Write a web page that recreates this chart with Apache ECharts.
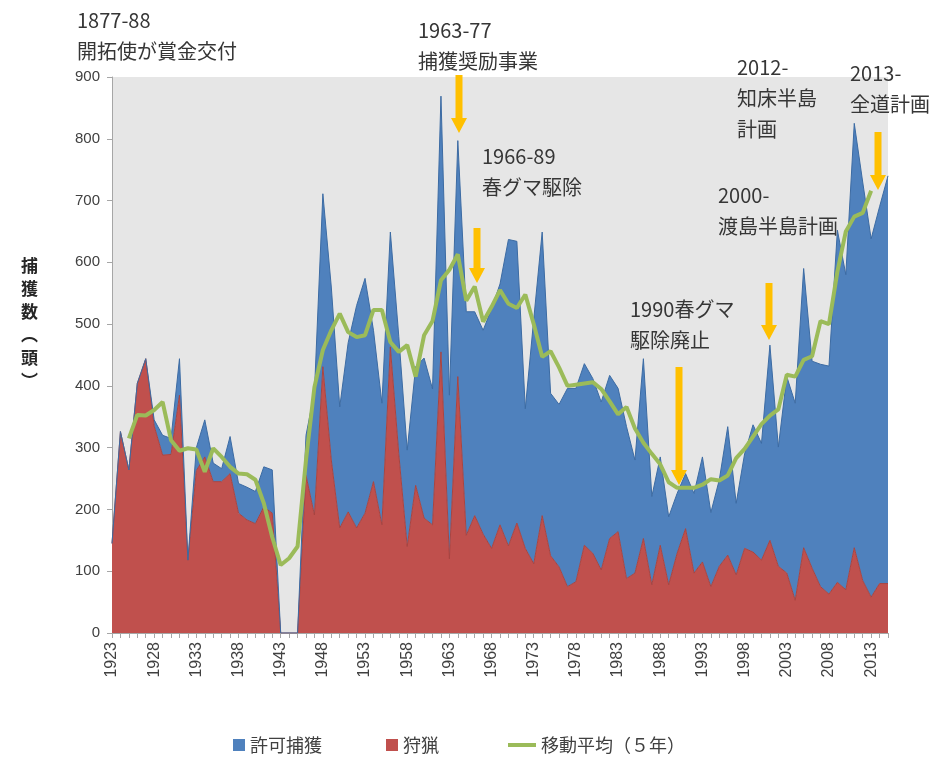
<!DOCTYPE html>
<html>
<head>
<meta charset="utf-8">
<script src="https://cdn.jsdelivr.net/npm/echarts@6/dist/echarts.min.js"></script>
<style>
html, body { margin: 0; padding: 0; background: #fff; }
#chart { width: 938px; height: 757px; }
</style>
</head>
<body>
<div id="chart"></div>
<script>
const years = [
  '1923', '1924', '1925', '1926', '1927', '1928', '1929', '1930', '1931', '1932',
  '1933', '1934', '1935', '1936', '1937', '1938', '1939', '1940', '1941', '1942',
  '1943', '1944', '1945', '1946', '1947', '1948', '1949', '1950', '1951', '1952',
  '1953', '1954', '1955', '1956', '1957', '1958', '1959', '1960', '1961', '1962',
  '1963', '1964', '1965', '1966', '1967', '1968', '1969', '1970', '1971', '1972',
  '1973', '1974', '1975', '1976', '1977', '1978', '1979', '1980', '1981', '1982',
  '1983', '1984', '1985', '1986', '1987', '1988', '1989', '1990', '1991', '1992',
  '1993', '1994', '1995', '1996', '1997', '1998', '1999', '2000', '2001', '2002',
  '2003', '2004', '2005', '2006', '2007', '2008', '2009', '2010', '2011', '2012',
  '2013', '2014', '2015'
];

// 狩猟
const hunting = [
  145, 326, 264, 404, 444, 335, 288, 289, 385, 118,
  263, 285, 245, 245, 258, 194, 183, 177, 204, 194,
  0, 0, 0, 255, 191, 431, 280, 170, 196, 170,
  194, 245, 175, 463, 290, 140, 239, 186, 175, 455,
  120, 415, 158, 190, 160, 137, 175, 141, 178, 137,
  112, 190, 125, 107, 75, 83, 142, 129, 102, 153,
  164, 88, 97, 153, 78, 142, 78, 129, 169, 97,
  115, 75, 108, 126, 94, 137, 131, 118, 150, 108,
  97, 53, 138, 105, 75, 63, 82, 70, 138, 85,
  58, 80, 80
];

// 許可捕獲
const permit = [
  0, 0, 0, 0, 0, 10, 32, 26, 59, 0,
  37, 60, 30, 21, 60, 48, 53, 52, 65, 70,
  0, 0, 0, 65, 199, 280, 280, 196, 274, 360,
  380, 245, 197, 186, 190, 156, 192, 259, 220, 414,
  265, 382, 362, 330, 330, 388, 390, 496, 456, 226,
  396, 459, 263, 263, 321, 313, 294, 283, 272, 264,
  232, 246, 183, 291, 143, 143, 110, 97, 89, 129,
  170, 120, 140, 208, 116, 153, 206, 189, 316, 193,
  318, 319, 452, 335, 360, 369, 570, 510, 687, 645,
  580, 610, 660
];

// 移動平均（５年）
const movingAvg = [
  null, null, 315, 353, 352, 361, 374, 312, 295, 299,
  297, 261, 299, 285, 269, 258, 257, 248, 210, 155,
  110, 121, 140, 280, 398, 458, 490, 517, 487, 479,
  482, 523, 523, 471, 455, 466, 415, 482, 505, 571,
  588, 613, 538, 561, 504, 528, 555, 533, 526, 548,
  500, 447, 456, 430, 400, 402, 404, 406, 395, 375,
  354, 366, 331, 308, 290, 273, 244, 235, 235, 235,
  240, 249, 247, 255, 283, 298, 318, 338, 352, 362,
  418, 415, 442, 448, 505, 500, 585, 650, 674, 680,
  716, null, null
];

const FONT = '"Liberation Sans", "Noto Sans CJK JP", sans-serif';
const NOTE_COLOR = '#363636';

function note(x, y, lines) {
  return lines.map((t, i) => ({
    type: 'text',
    x: x,
    y: y + i * 31,
    style: { text: t, font: '20px "Noto Sans CJK JP", sans-serif', fill: NOTE_COLOR, verticalAlign: 'top' },
    z: 100
  }));
}

function arrow(x, top, tip) {
  const head = tip - 15;
  return {
    type: 'polygon',
    shape: {
      points: [[x - 3.5, top], [x + 3.5, top], [x + 3.5, head], [x + 8, head],
        [x, tip], [x - 8, head], [x - 3.5, head]]
    },
    style: { fill: '#ffc000' },
    z: 100
  };
}

const chart = echarts.init(document.getElementById('chart'));

chart.setOption({
  animation: false,
  textStyle: { fontFamily: FONT },
  grid: {
    left: 112, right: 50, top: 77, bottom: 124,
    show: true, backgroundColor: '#e6e6e6', borderWidth: 0
  },
  legend: [
    {
      left: 228, top: 731,
      itemWidth: 12, itemHeight: 12, itemGap: 64,
      icon: 'rect',
      textStyle: { fontSize: 18, color: '#404040', fontFamily: '"Noto Sans CJK JP", sans-serif' },
      data: ['許可捕獲', '狩猟']
    },
    {
      left: 503, top: 731,
      itemWidth: 28, itemHeight: 4,
      icon: 'rect',
      textStyle: { fontSize: 18, color: '#404040', fontFamily: '"Noto Sans CJK JP", sans-serif' },
      data: ['移動平均（５年）']
    }
  ],
  xAxis: {
    type: 'category',
    data: years,
    boundaryGap: false,
    axisLine: { lineStyle: { color: '#a6a6a6' } },
    axisTick: { show: true, interval: 0, length: 5, lineStyle: { color: '#a6a6a6' } },
    axisLabel: { interval: 4, rotate: 90, fontSize: 16, color: '#404040', margin: 9 },
    splitLine: { show: false }
  },
  yAxis: {
    type: 'value',
    min: 0, max: 900, interval: 100,
    axisLine: { show: true, lineStyle: { color: '#a6a6a6' } },
    axisTick: { show: true, length: 5, lineStyle: { color: '#a6a6a6' } },
    axisLabel: { fontSize: 15, color: '#404040', margin: 12 },
    splitLine: { show: false }
  },
  series: [
    {
      name: '狩猟',
      type: 'line',
      stack: 'total',
      data: hunting,
      symbol: 'none',
      itemStyle: { color: '#c0504d' },
      lineStyle: { width: 1, color: '#a84441' },
      areaStyle: { color: '#c0504d', opacity: 1 }
    },
    {
      name: '許可捕獲',
      type: 'line',
      stack: 'total',
      data: permit,
      symbol: 'none',
      itemStyle: { color: '#4f81bd' },
      lineStyle: { width: 1, color: '#3c6ba3' },
      areaStyle: { color: '#4f81bd', opacity: 1 }
    },
    {
      name: '移動平均（５年）',
      type: 'line',
      data: movingAvg,
      symbol: 'none',
      itemStyle: { color: '#9bbb59' },
      lineStyle: { width: 4, color: '#9bbb59' },
      z: 5
    }
  ],
  graphic: [].concat(
    [{
      type: 'text', x: 21, y: 254,
      style: {
        text: '捕\n獲\n数\n︵\n頭\n︶',
        font: 'bold 17px "Noto Sans CJK JP", sans-serif',
        fill: '#262626', lineHeight: 23, verticalAlign: 'top'
      }
    }],
    note(77, 10, ['1877-88', '開拓使が賞金交付']),
    note(418, 20, ['1963-77', '捕獲奨励事業']),
    note(482, 146, ['1966-89', '春グマ駆除']),
    note(630, 299, ['1990春グマ', '駆除廃止']),
    note(737, 57, ['2012-', '知床半島', '計画']),
    note(718, 185, ['2000-', '渡島半島計画']),
    note(850, 63, ['2013-', '全道計画']),
    [
      arrow(459, 75, 133),
      arrow(477, 228, 283),
      arrow(679, 367, 485),
      arrow(769, 283, 340),
      arrow(878, 132, 190)
    ]
  )
});
</script>
</body>
</html>
